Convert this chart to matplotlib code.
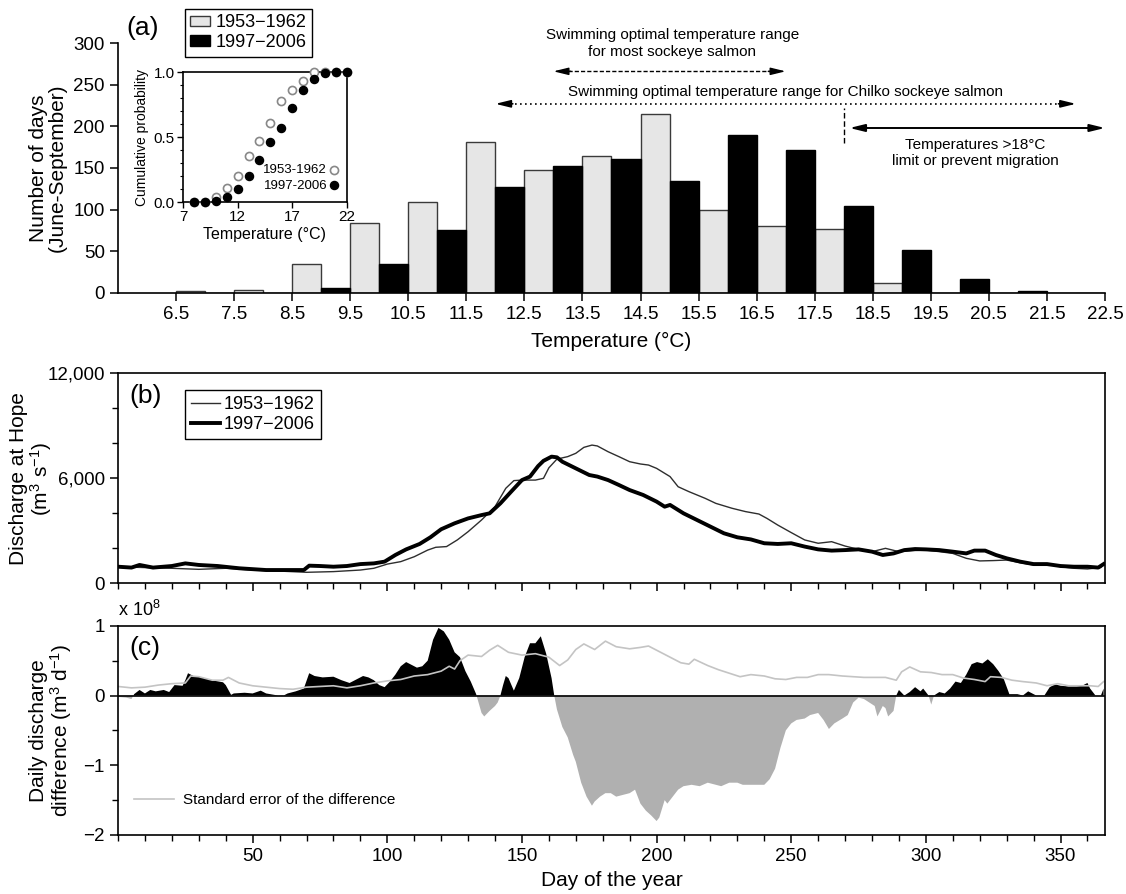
import numpy as np
import matplotlib
matplotlib.use('Agg')
import matplotlib.pyplot as plt
from matplotlib.patches import Patch
from matplotlib import font_manager
from matplotlib.ticker import MultipleLocator, FuncFormatter

# fonts: Arial-like body text, narrow face for the small annotations
installed = {f.name for f in font_manager.fontManager.ttflist}
NARROW = 'Liberation Sans Narrow' if 'Liberation Sans Narrow' in installed else 'Liberation Sans'
plt.rcParams['font.family'] = ['Liberation Sans', 'DejaVu Sans']
plt.rcParams['mathtext.fontset'] = 'custom'
plt.rcParams['mathtext.rm'] = 'Liberation Sans'
plt.rcParams['mathtext.it'] = 'Liberation Sans:italic'
plt.rcParams['axes.linewidth'] = 1.2

# ---- (a) days per temperature bin, June-September ----
bin_left = [6.5, 7.5, 8.5, 9.5, 10.5, 11.5, 12.5, 13.5, 14.5, 15.5, 16.5, 17.5, 18.5, 19.5, 20.5, 21.5]
days_1953 = [2, 3, 35, 84, 109, 181, 148, 164, 215, 99, 80, 77, 12, 0, 0, 0]
days_1997 = [0, 0, 6, 35, 75, 127, 152, 161, 134, 190, 172, 104, 51, 17, 2, 0]

# inset: cumulative probability
cum_temp = [8, 9, 10, 11, 12, 13, 14, 15, 16, 17, 18, 19, 20, 21, 22]
cum_1953 = [0.0, 0.0, 0.04, 0.11, 0.20, 0.355, 0.47, 0.61, 0.78, 0.865, 0.93, 1.0, 1.0, 1.0, 1.0]
cum_1997 = [0.0, 0.0, 0.01, 0.035, 0.10, 0.20, 0.32, 0.46, 0.57, 0.72, 0.86, 0.95, 0.99, 1.0, 1.0]

# ---- (b) discharge at Hope (m3/s) ----
q_days_1953 = [0, 10, 20, 30, 40, 50, 60, 70, 80, 90, 95, 100, 105, 110, 115, 118, 122, 126, 130,
               135, 140, 144, 147, 150, 155, 158, 160, 163, 167, 170, 173, 176, 178, 182, 186, 190,
               194, 197, 200, 205, 208, 212, 218, 222, 228, 233, 238, 241, 245, 250, 255, 260, 265,
               270, 275, 280, 285, 290, 295, 300, 305, 310, 315, 320, 325, 330, 335, 340, 345, 350,
               355, 360, 365]
q_1953 = [950, 900, 860, 800, 860, 760, 700, 630, 670, 760, 860, 1100, 1240, 1520, 1900, 2060, 2100,
          2480, 2950, 3620, 4380, 5430, 5870, 5900, 5900, 6000, 6600, 7100, 7240, 7430, 7770, 7900,
          7850, 7520, 7240, 6950, 6820, 6760, 6570, 6100, 5520, 5240, 4860, 4570, 4290, 4100, 3960,
          3710, 3330, 2900, 2480, 2290, 2380, 2130, 1940, 1810, 2000, 1810, 1870, 1900, 1810, 1710,
          1430, 1280, 1300, 1330, 1180, 1050, 1100, 950, 860, 820, 910]

q_days_1997 = [0, 5, 8, 13, 20, 25, 30, 37, 45, 55, 65, 69, 71, 75, 80, 85, 90, 95, 99, 103, 107,
               112, 116, 120, 125, 130, 135, 138, 142, 146, 150, 153, 156, 158, 161, 163, 165, 170,
               175, 178, 182, 186, 190, 195, 200, 203, 205, 210, 215, 220, 225, 230, 235, 240, 245,
               250, 255, 260, 265, 270, 275, 280, 284, 288, 292, 296, 300, 305, 310, 315, 318, 322,
               326, 330, 335, 340, 345, 350, 355, 360, 364, 366]
q_1997 = [950, 900, 1050, 900, 990, 1140, 1050, 990, 860, 760, 760, 760, 1010, 990, 950, 990, 1100,
          1140, 1240, 1620, 1940, 2250, 2630, 3090, 3430, 3710, 3900, 4000, 4570, 5240, 5900, 6100,
          6700, 7000, 7240, 7200, 6950, 6570, 6190, 6100, 5900, 5620, 5330, 5050, 4670, 4380, 4480,
          4000, 3620, 3240, 2860, 2630, 2510, 2290, 2250, 2290, 2100, 1940, 1870, 1900, 1940, 1810,
          1620, 1710, 1900, 1960, 1940, 1900, 1810, 1710, 1870, 1870, 1620, 1430, 1240, 1100, 1100,
          990, 950, 950, 900, 1100]

# ---- (c) daily discharge difference (x 1e8 m3/d) ----
diff_days = [0, 3, 5, 6, 8, 10, 12, 14, 17, 19, 21, 24, 25, 26, 28, 30, 33, 36, 39, 40, 42, 43, 47,
             50, 53, 55, 58, 61, 63, 66, 69, 71, 73, 76, 80, 83, 86, 88, 91, 93, 95, 97, 99, 101,
             103, 105, 107, 109, 111, 113, 115, 117, 119, 121, 123, 125, 127, 129, 131, 133, 135,
             136, 138, 140, 141, 142, 143, 144, 145, 147, 149, 151, 153, 155, 157, 159, 161, 162,
             163, 165, 167, 169, 170, 172, 174, 176, 177, 179, 181, 183, 185, 187, 190, 192, 194,
             196, 198, 200, 201, 203, 204, 206, 208, 210, 213, 216, 219, 221, 224, 227, 230, 232,
             235, 238, 240, 242, 244, 246, 248, 250, 252, 255, 257, 260, 262, 264, 266, 269, 271,
             273, 275, 277, 279, 281, 282, 284, 285, 286, 288, 289, 290, 292, 294, 296, 298, 299,
             301, 302, 303, 305, 307, 309, 311, 313, 315, 317, 319, 321, 323, 325, 327, 329, 331,
             334, 336, 338, 341, 344, 346, 348, 350, 353, 356, 358, 360, 361, 363, 365, 366]
diff_val = [-0.02, -0.03, -0.05, 0.02, 0.08, 0.03, 0.08, 0.06, 0.08, 0.05, 0.15, 0.14, 0.22, 0.32,
            0.28, 0.27, 0.24, 0.21, 0.19, 0.15, 0.01, 0.03, 0.04, 0.03, 0.07, 0.03, 0.01, -0.01,
            0.03, 0.06, 0.10, 0.32, 0.28, 0.26, 0.27, 0.22, 0.18, 0.22, 0.28, 0.26, 0.22, 0.15, 0.12,
            0.20, 0.30, 0.42, 0.48, 0.44, 0.40, 0.42, 0.50, 0.80, 0.97, 0.92, 0.80, 0.62, 0.55, 0.35,
            0.20, 0.02, -0.25, -0.30, -0.22, -0.15, -0.10, 0.0, 0.15, 0.28, 0.25, 0.07, 0.25, 0.55,
            0.75, 0.75, 0.85, 0.60, 0.25, 0.0, -0.20, -0.45, -0.60, -0.85, -0.95, -1.25, -1.45,
            -1.58, -1.52, -1.45, -1.40, -1.40, -1.45, -1.43, -1.40, -1.35, -1.55, -1.65, -1.72,
            -1.80, -1.75, -1.50, -1.55, -1.45, -1.35, -1.30, -1.28, -1.30, -1.25, -1.27, -1.30,
            -1.25, -1.25, -1.28, -1.28, -1.28, -1.28, -1.20, -1.05, -0.75, -0.50, -0.40, -0.35,
            -0.33, -0.28, -0.25, -0.35, -0.48, -0.40, -0.33, -0.28, -0.10, -0.03, -0.05, -0.10,
            -0.15, -0.30, -0.15, -0.18, -0.30, -0.22, 0.0, 0.08, 0.0, 0.05, 0.12, 0.06, 0.10, 0.0,
            -0.13, 0.0, 0.05, 0.03, 0.10, 0.20, 0.18, 0.30, 0.45, 0.48, 0.46, 0.52, 0.45, 0.35, 0.23,
            0.02, 0.02, 0.0, 0.06, 0.0, 0.0, 0.12, 0.16, 0.14, 0.13, 0.13, 0.14, 0.18, 0.10, 0.0,
            0.0, 0.10]

se_days = [0, 5, 10, 15, 20, 25, 27, 30, 35, 39, 41, 45, 50, 55, 60, 65, 70, 75, 80, 85, 90, 95,
           100, 105, 110, 115, 120, 123, 125, 127, 130, 135, 138, 141, 145, 150, 155, 160, 164,
           167, 170, 173, 177, 181, 185, 190, 194, 197, 201, 205, 209, 212, 214, 219, 223, 227,
           231, 235, 240, 244, 248, 252, 256, 260, 264, 269, 273, 277, 281, 285, 289, 291, 294,
           298, 302, 306, 310, 314, 318, 322, 324, 328, 332, 336, 341, 345, 349, 353, 357, 361,
           364, 366]
se_val = [0.13, 0.11, 0.12, 0.15, 0.17, 0.18, 0.28, 0.27, 0.22, 0.22, 0.26, 0.18, 0.14, 0.12, 0.10,
          0.09, 0.12, 0.13, 0.14, 0.11, 0.14, 0.18, 0.21, 0.23, 0.28, 0.30, 0.35, 0.42, 0.38, 0.50,
          0.58, 0.56, 0.65, 0.72, 0.62, 0.58, 0.60, 0.55, 0.43, 0.51, 0.66, 0.74, 0.66, 0.78, 0.70,
          0.67, 0.69, 0.71, 0.63, 0.55, 0.47, 0.45, 0.52, 0.43, 0.37, 0.32, 0.27, 0.30, 0.28, 0.24,
          0.23, 0.26, 0.26, 0.30, 0.30, 0.28, 0.27, 0.26, 0.26, 0.26, 0.22, 0.34, 0.41, 0.34, 0.33,
          0.30, 0.30, 0.25, 0.23, 0.20, 0.27, 0.26, 0.22, 0.20, 0.18, 0.14, 0.17, 0.14, 0.14, 0.14,
          0.13, 0.20]

LIGHT = '#e6e6e6'
FS_TICK = 13.5
FS_LAB = 15

fig = plt.figure(figsize=(11.26, 8.94), dpi=100)

# ================= panel (a) =================
axa = fig.add_axes([0.1048, 0.6723, 0.8765, 0.2796])
lefts = np.array(bin_left)
axa.bar(lefts, days_1953, width=0.5, align='edge', color=LIGHT, edgecolor='#3a3a3a', linewidth=1.0)
axa.bar(lefts + 0.5, days_1997, width=0.5, align='edge', color='black', edgecolor='black', linewidth=1.0)
axa.set_xlim(5.5, 22.5)
axa.set_ylim(0, 300)
axa.set_xticks(np.arange(6.5, 22.6, 1.0))
axa.xaxis.set_major_formatter(FuncFormatter(lambda v, p: f'{v:.1f}'))
axa.set_yticks(range(0, 301, 50))
axa.spines['top'].set_visible(False)
axa.spines['right'].set_visible(False)
axa.tick_params(labelsize=FS_TICK, direction='out', length=6, width=1.1)
axa.set_xlabel('Temperature (°C)', fontsize=FS_LAB, labelpad=6)
axa.set_ylabel('Number of days\n(June-September)', fontsize=FS_LAB, linespacing=1.0)
axa.yaxis.set_label_coords(-0.052, 0.5)
axa.text(0.008, 1.06, '(a)', transform=axa.transAxes, fontsize=19, ha='left', va='center')


def double_arrow(ax, x0, x1, y, ls, lw):
    ax.plot([x0 + 0.25, x1 - 0.25], [y, y], color='black', ls=ls, lw=lw, clip_on=False)
    head = dict(arrowstyle='-|>,head_length=0.9,head_width=0.22', color='black', lw=lw,
                shrinkA=0, shrinkB=0)
    ax.annotate('', xy=(x0, y), xytext=(x0 + 0.3, y), arrowprops=head, annotation_clip=False)
    ax.annotate('', xy=(x1, y), xytext=(x1 - 0.3, y), arrowprops=head, annotation_clip=False)


double_arrow(axa, 13.0, 17.0, 266, (0, (3, 1.5)), 1.0)
double_arrow(axa, 12.0, 22.0, 227, (0, (1, 2)), 1.2)
double_arrow(axa, 18.1, 22.5, 198, '-', 1.4)
axa.plot([18.0, 18.0], [180, 222], color='black', ls=(0, (4, 2)), lw=1.0)

afs = 12.5 if NARROW != 'Liberation Sans' else 11
axa.text(15.05, 299, 'Swimming optimal temperature range\nfor most sockeye salmon', family=NARROW,
         fontsize=afs, ha='center', va='center', linespacing=1.25, clip_on=False)
axa.text(17.0, 241, 'Swimming optimal temperature range for Chilko sockeye salmon', family=NARROW,
         fontsize=afs, ha='center', va='center')
axa.text(20.27, 168, 'Temperatures >18°C\nlimit or prevent migration', family=NARROW,
         fontsize=afs, ha='center', va='center', linespacing=1.25)

fig.legend(handles=[Patch(facecolor=LIGHT, edgecolor='#3a3a3a', linewidth=1.0),
                    Patch(facecolor='black', edgecolor='black')],
           labels=['1953\u22121962', '1997\u22122006'], loc='upper left',
           bbox_to_anchor=(185 / 1126, 1 - 9 / 894), bbox_transform=fig.transFigure,
           fontsize=13, frameon=True, fancybox=False, edgecolor='black', framealpha=1,
           handlelength=1.1, handleheight=0.55, handletextpad=0.3, borderpad=0.3,
           labelspacing=0.15, borderaxespad=0)

# inset: cumulative probability
axi = fig.add_axes([0.1625, 0.774, 0.1456, 0.1454])
axi.scatter(cum_temp, cum_1953, s=34, facecolor='white', edgecolor='#888888', linewidth=1.2,
            zorder=3, clip_on=False, label='1953-1962')
axi.scatter(cum_temp, cum_1997, s=34, facecolor='black', edgecolor='black', zorder=4,
            clip_on=False, label='1997-2006')
axi.set_xlim(7, 22)
axi.set_ylim(0, 1)
axi.set_xticks([7, 12, 17, 22])
axi.set_yticks([0, 0.5, 1.0])
axi.yaxis.set_major_formatter(FuncFormatter(lambda v, p: f'{v:.1f}'))
axi.yaxis.set_minor_locator(MultipleLocator(0.1))
axi.tick_params(labelsize=11, direction='out', length=4, width=1.0, pad=2)
axi.tick_params(which='minor', direction='out', length=2.5, width=0.8)
axi.set_xlabel('Temperature (°C)', fontsize=11.5, labelpad=2)
axi.set_ylabel('Cumulative probability', fontsize=10, labelpad=3)
axi.legend(loc='lower right', bbox_to_anchor=(1.0, 0.02), frameon=False, markerfirst=False,
           prop={'family': NARROW, 'size': 9.5}, handletextpad=0.1, handlelength=0.8,
           labelspacing=0.25, borderaxespad=0.2)

# ================= panel (b) =================
axb = fig.add_axes([0.1048, 0.3475, 0.8765, 0.2349])
axb.plot(q_days_1953, q_1953, color='#2e2e2e', lw=1.0, label='1953\u22121962')
axb.plot(q_days_1997, q_1997, color='black', lw=2.8, label='1997\u22122006')
axb.set_xlim(0, 366.5)
axb.set_ylim(0, 12000)
axb.set_yticks([0, 6000, 12000])
axb.yaxis.set_minor_locator(MultipleLocator(2000))
axb.yaxis.set_major_formatter(FuncFormatter(lambda v, p: f'{v:,.0f}'))
axb.set_xticks(range(50, 351, 50))
axb.xaxis.set_minor_locator(MultipleLocator(10))
axb.set_xticklabels([])
axb.tick_params(labelsize=FS_TICK, direction='out', length=6, width=1.1)
axb.tick_params(which='minor', direction='out', length=4, width=1.0)
axb.set_ylabel('Discharge at Hope\n(m$^{3}$ s$^{-1}$)', fontsize=FS_LAB, linespacing=1.0)
axb.yaxis.set_label_coords(-0.065, 0.5)
axb.text(0.012, 0.95, '(b)', transform=axb.transAxes, fontsize=19, ha='left', va='top')
axb.legend(loc='upper left', bbox_to_anchor=(0.068, 0.92), fontsize=13, frameon=True,
           fancybox=False, edgecolor='black', framealpha=1, handlelength=1.6,
           handletextpad=0.2, borderpad=0.35, labelspacing=0.15, borderaxespad=0)

# ================= panel (c) =================
axc = fig.add_axes([0.1048, 0.066, 0.8765, 0.234])
dd = np.array(diff_days)
dv = np.array(diff_val)
axc.fill_between(dd, dv, 0, where=dv >= 0, interpolate=True, color='black', lw=0)
axc.fill_between(dd, dv, 0, where=dv <= 0, interpolate=True, color='#b0b0b0', lw=0)
axc.axhline(0, color='black', lw=1.2)
axc.plot(se_days, se_val, color='#c4c4c4', lw=1.2, label='Standard error of the difference')
axc.set_xlim(0, 366.5)
axc.set_ylim(-2, 1)
axc.set_yticks([-2, -1, 0, 1])
axc.yaxis.set_minor_locator(MultipleLocator(0.5))
axc.yaxis.set_major_formatter(FuncFormatter(lambda v, p: f'{v:.0f}'.replace('-', '\u2212')))
axc.set_xticks(range(50, 351, 50))
axc.xaxis.set_minor_locator(MultipleLocator(10))
axc.tick_params(labelsize=FS_TICK, direction='out', length=6, width=1.1)
axc.tick_params(which='minor', direction='out', length=4, width=1.0)
axc.set_xlabel('Day of the year', fontsize=FS_LAB, labelpad=4)
axc.set_ylabel('Daily discharge\ndifference (m$^{3}$ d$^{-1}$)', fontsize=FS_LAB, linespacing=1.0)
axc.yaxis.set_label_coords(-0.045, 0.5)
axc.text(0.0, 1.03, 'x 10$^{8}$', transform=axc.transAxes, fontsize=13, ha='left', va='bottom')
axc.text(0.012, 0.95, '(c)', transform=axc.transAxes, fontsize=19, ha='left', va='top')
axc.legend(loc='center left', bbox_to_anchor=(0.01, 0.167), frameon=False, fontsize=11,
           handlelength=2.6, handletextpad=0.6, borderaxespad=0)

fig.savefig('out.png', dpi=100)
